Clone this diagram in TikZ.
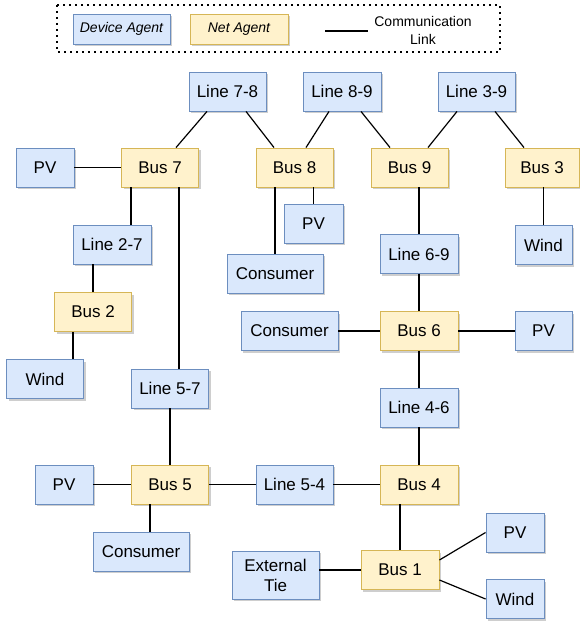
\documentclass[tikz,border=0pt]{standalone}
\usepackage{fontspec}
\setmainfont{Liberation Sans}
\usepackage{tikz}
\usetikzlibrary{positioning}
\usetikzlibrary{shadows, calc}

\definecolor{devfill}{HTML}{DAE8FC}
\definecolor{devline}{HTML}{6C8EBF}
\definecolor{netfill}{HTML}{FFF2CC}
\definecolor{netline}{HTML}{D6B656}

\tikzstyle{boxshadow} = [drop shadow={shadow xshift=2pt, shadow yshift=-2pt, fill=black!35, opacity=0.55}]
\tikzstyle{device} = [draw=devline, fill=devfill, boxshadow, line width=0.9pt, minimum width=77pt, minimum height=39pt, inner sep=0pt]
\tikzstyle{net} = [draw=netline, fill=netfill, boxshadow, line width=0.9pt, minimum width=77pt, minimum height=39pt, inner sep=0pt]
\tikzstyle{link} = [line width=1.2pt]

\begin{document}
\begin{tikzpicture}[
    x = 1pt, y = -1pt,
    every node/.style = {font = \fontsize{17}{20}\selectfont},
    legend/.style = {font = \fontsize{14}{18}\selectfont\itshape, minimum width = 97pt, minimum height = 30pt}
  ]
  \useasboundingbox (0,0) rectangle (579,626);

  % Legend
  \draw[line width=1.6pt, dash pattern=on 1.6pt off 4.4pt] (57,5) rectangle (500,52);
  \node[device, legend] (DevKey) at (121.5,29) {Device Agent};
  \node[net, legend, minimum width=98pt] (NetKey) at (239,29) {Net Agent};
  \coordinate (linkA) at (325,31);
  \coordinate (linkB) at (368,31);
  \draw[link] (linkA) -- (linkB);
  \node[align=center, font=\fontsize{14}{18}\selectfont] (LinkKey) at (423,30) {Communication\\Link};

  % Lines
  \node[device] (L78) at (227.5,91.5) {Line 7-8};
  \node[device, minimum width=78pt] (L89) at (342,91.5) {Line 8-9};
  \node[device] (L39) at (476.5,91.5) {Line 3-9};
  \node[device, minimum width=78pt] (L27) at (112,244.5) {Line 2-7};
  \node[device, minimum width=78pt] (L69) at (419,254) {Line 6-9};
  \node[device] (L57) at (170,388.5) {Line 5-7};
  \node[device, minimum width=78pt] (L46) at (419,407.5) {Line 4-6};
  \node[device] (L54) at (294.5,484.5) {Line 5-4};

  % Buses
  \node[net] (B7) at (160,167.5) {Bus 7};
  \node[net] (B8) at (294.5,167.5) {Bus 8};
  \node[net] (B9) at (409.5,167.5) {Bus 9};
  \node[net, minimum width=74pt] (B3) at (542,167.5) {Bus 3};
  \node[net] (B2) at (93,312) {Bus 2};
  \node[net, minimum width=78pt] (B6) at (419,331) {Bus 6};
  \node[net] (B5) at (170,484.5) {Bus 5};
  \node[net, minimum width=78pt] (B4) at (419,484.5) {Bus 4};
  \node[net, minimum width=78pt] (B1) at (400,570) {Bus 1};

  % Devices
  \node[device, minimum width=58pt] (PV7) at (45,167.5) {PV};
  \node[device, minimum width=59pt] (PV8) at (313.5,223.5) {PV};
  \node[device, minimum width=96pt] (Con8) at (275,273.5) {Consumer};
  \node[device, minimum width=57pt] (W3) at (543.5,245) {Wind};
  \node[device] (W2) at (45,379) {Wind};
  \node[device, minimum width=97pt] (Con6) at (289.5,331) {Consumer};
  \node[device, minimum width=57pt] (PV6) at (543.5,331) {PV};
  \node[device, minimum width=58pt] (PV5) at (64,484.5) {PV};
  \node[device, minimum width=96pt] (Con5) at (141,551.5) {Consumer};
  \node[device, minimum width=87pt, minimum height=48pt, align=center] (ExtTie) at (275.5,575) {External\\Tie};
  \node[device, minimum width=58pt] (PV1) at (515,532.5) {PV};
  \node[device, minimum width=58pt] (W1) at (515,599) {Wind};

  % Links
  \draw[link] (PV7) -- (B7);
  \draw[link] ([xshift=-20.5pt]L78.south) -- ([xshift=16pt]B7.north);
  \draw[link] ([xshift=18.5pt]L78.south) -- ([xshift=-20.5pt]B8.north);
  \draw[link] ([xshift=-13pt]L89.south) -- ([xshift=11.5pt]B8.north);
  \draw[link] ([xshift=19pt]L89.south) -- ([xshift=-19.5pt]B9.north);
  \draw[link] ([xshift=-19.5pt]L39.south) -- ([xshift=18.5pt]B9.north);
  \draw[link] ([xshift=18.5pt]L39.south) -- ([xshift=-18pt]B3.north);
  \draw[link] ([xshift=19pt]L27.north) -- ([xshift=19pt]L27.north |- B7.south);
  \draw[link] ([xshift=9pt]L57.north) -- ([xshift=9pt]L57.north |- B7.south);
  \draw[link] (B2.north) -- (B2.north |- L27.south);
  \draw[link] ([xshift=-20pt]B2.south) -- ([xshift=-20pt]B2.south |- W2.north);
  \draw[link] (Con8.north) -- (Con8.north |- B8.south);
  \draw[link] (PV8.north) -- (PV8.north |- B8.south);
  \draw[link] (L69.north) -- (L69.north |- B9.south);
  \draw[link] (W3.north) -- (W3.north |- B3.south);
  \draw[link] (L69) -- (B6);
  \draw[link] (Con6) -- (B6);
  \draw[link] (B6) -- (PV6);
  \draw[link] (B6) -- (L46);
  \draw[link] (L46) -- (B4);
  \draw[link] (L57.south) -- (L57.south |- B5.north);
  \draw[link] (PV5) -- (B5);
  \draw[link] (B5) -- (L54);
  \draw[link] (L54) -- (B4);
  \draw[link] ([xshift=-20pt]B5.south) -- ([xshift=-20pt]B5.south |- Con5.north);
  \draw[link] (B1.north) -- (B1.north |- B4.south);
  \draw[link] (B1.west) -- (B1.west -| ExtTie.east);
  \draw[link] ([yshift=10pt]B1.east) -- (PV1.west);
  \draw[link] ([yshift=-10pt]B1.east) -- (W1.west);
\end{tikzpicture}
\end{document}
